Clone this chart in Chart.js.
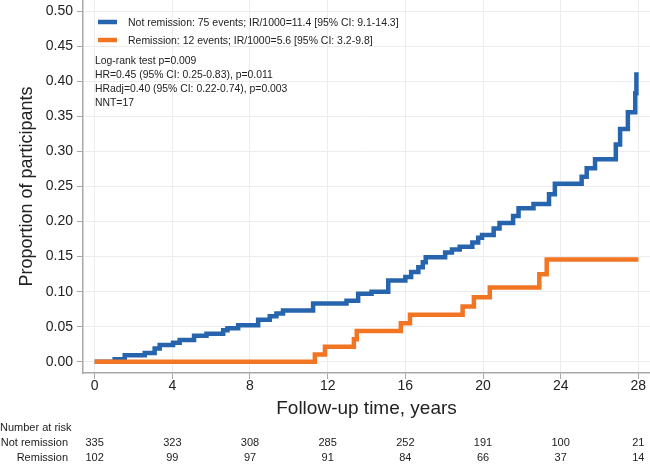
<!DOCTYPE html>
<html>
<head>
<meta charset="utf-8">
<script src="https://cdn.jsdelivr.net/npm/chart.js@4"></script>
<style>
  html, body { margin: 0; padding: 0; background: #fff; }
  #wrap { width: 650px; height: 466px; }
</style>
</head>
<body>
<div id="wrap"><canvas id="kmChart" width="650" height="466"></canvas></div>
<script>
// ---- data ----
const notRemTime = [0, 1.03, 1.55, 2.58, 3.09, 3.35, 4.04, 4.38, 5.12, 5.76, 6.62, 6.84, 7.39, 8.42, 9.02, 9.36, 9.70,
  11.25, 12.97, 13.57, 14.26, 15.12, 16.0, 16.3, 16.67, 16.9, 17.05, 18.05, 18.4, 18.8, 19.45, 19.75, 19.95,
  20.55, 20.85, 21.55, 21.83, 22.6, 23.4, 23.7, 25.08, 25.34, 25.77, 26.84, 27.06, 27.46, 27.84, 27.9];
const notRemProp = [0, 0.0037, 0.0094, 0.0127, 0.019, 0.024, 0.027, 0.031, 0.037, 0.040, 0.045, 0.048, 0.052, 0.060, 0.065, 0.069, 0.073,
  0.083, 0.087, 0.097, 0.100, 0.116, 0.121, 0.128, 0.135, 0.142, 0.149, 0.156, 0.160, 0.164, 0.170, 0.177, 0.181,
  0.190, 0.198, 0.208, 0.219, 0.225, 0.239, 0.254, 0.264, 0.276, 0.289, 0.310, 0.332, 0.356, 0.383, 0.413];

const remTime = [0, 11.34, 11.86, 13.35, 13.5, 15.77, 16.24, 18.95, 19.53, 20.35, 22.9, 23.28, 28];
const remProp = [0, 0.0104, 0.0214, 0.032, 0.044, 0.055, 0.067, 0.079, 0.092, 0.106, 0.125, 0.146, 0.146];

const xTicks = [0, 4, 8, 12, 16, 20, 24, 28];
const yTicks = [0, 0.05, 0.10, 0.15, 0.20, 0.25, 0.30, 0.35, 0.40, 0.45, 0.50];

const riskNotRem = [335, 323, 308, 285, 252, 191, 100, 21];
const riskRem = [102, 99, 97, 91, 84, 66, 37, 14];

const seriesLabels = [
  "Not remission: 75 events; IR/1000=11.4 [95% CI: 9.1-14.3]",
  "Remission: 12 events; IR/1000=5.6 [95% CI: 3.2-9.8]"
];
const statLines = [
  "Log-rank test p=0.009",
  "HR=0.45 (95% CI: 0.25-0.83), p=0.011",
  "HRadj=0.40 (95% CI: 0.22-0.74), p=0.003",
  "NNT=17"
];

const BLUE = "#2764ae";
const ORANGE = "#f27524";
const FONT = "'Liberation Sans', Arial, sans-serif";
const NARROW = "'Liberation Sans Narrow', 'Liberation Sans', Arial, sans-serif";

const toPoints = (xs, ys) => xs.map((x, i) => ({ x: x, y: ys[i] }));

// text drawn a little condensed, like the reference
function squeezedText(ctx, txt, x, y, sx) {
  ctx.save();
  ctx.translate(x, y);
  ctx.scale(sx, 1);
  ctx.fillText(txt, 0, 0);
  ctx.restore();
}

// legend, stats text and number-at-risk table
const extras = {
  id: "extras",
  afterDraw(chart) {
    const ctx = chart.ctx;
    const xs = chart.scales.x;
    ctx.save();

    // legend inside the plot
    const colors = [BLUE, ORANGE];
    ctx.font = "11.5px " + FONT;
    ctx.textBaseline = "middle";
    ctx.textAlign = "left";
    seriesLabels.forEach((lab, i) => {
      const y = 22 + i * 18;
      ctx.strokeStyle = colors[i];
      ctx.lineWidth = 4.5;
      ctx.beginPath();
      ctx.moveTo(98, y);
      ctx.lineTo(117, y);
      ctx.stroke();
      ctx.fillStyle = "#222";
      squeezedText(ctx, lab, 128, y + 0.5, 0.91);
    });

    ctx.font = "11.3px " + FONT;
    statLines.forEach((s, i) => {
      squeezedText(ctx, s, 95, 61 + i * 13.8, 0.92);
    });

    // number at risk
    ctx.font = "11px " + NARROW;
    ctx.fillStyle = "#222";
    ctx.textAlign = "left";
    ctx.fillText("Number at risk", 0, 428);
    ctx.textAlign = "right";
    ctx.fillText("Not remission", 68, 443);
    ctx.fillText("Remission", 68, 458);
    ctx.textAlign = "center";
    xTicks.forEach((t, i) => {
      const px = xs.getPixelForValue(t);
      ctx.fillText(String(riskNotRem[i]), px, 443);
      ctx.fillText(String(riskRem[i]), px, 458);
    });
    ctx.restore();
  }
};

new Chart(document.getElementById("kmChart"), {
  type: "line",
  data: {
    datasets: [
      {
        label: seriesLabels[1],
        data: toPoints(remTime, remProp),
        borderColor: ORANGE,
        borderWidth: 4.5,
        stepped: "before",
        pointRadius: 0,
        fill: false,
        order: 0,
      },
      {
        label: seriesLabels[0],
        data: toPoints(notRemTime, notRemProp),
        borderColor: BLUE,
        borderWidth: 4.5,
        stepped: "before",
        pointRadius: 0,
        fill: false,
        order: 1,
      },
    ],
  },
  options: {
    responsive: false,
    animation: false,
    parsing: false,
    layout: { padding: { left: 0, right: 0, top: 0, bottom: 46 } },
    plugins: {
      legend: { display: false },
      tooltip: { enabled: false },
    },
    scales: {
      x: {
        type: "linear",
        min: -0.6,
        max: 28.6,
        afterBuildTicks: (s) => { s.ticks = xTicks.map((v) => ({ value: v })); },
        afterFit: (s) => { s.height = 47; },
        grid: { color: "#ececec", lineWidth: 1, tickLength: 6, tickColor: "#a8a8a8" },
        border: { color: "#a8a8a8", width: 1.5 },
        ticks: {
          color: "#222",
          padding: -1,
          maxRotation: 0,
          font: { family: FONT, size: 14 },
          callback: (v) => String(v),
        },
        title: {
          display: true,
          text: "Follow-up time, years",
          color: "#222",
          font: { family: FONT, size: 19 },
          padding: { top: 0, bottom: 0 },
        },
      },
      y: {
        type: "linear",
        min: -0.016,
        max: 0.516,
        afterBuildTicks: (s) => { s.ticks = yTicks.map((v) => ({ value: v })); },
        afterFit: (s) => { s.width = 83; s.paddingTop = 0; s.paddingBottom = 0; },
        grid: { color: "#ececec", lineWidth: 1, tickLength: 6, tickColor: "#a8a8a8" },
        border: { color: "#a8a8a8", width: 1.5 },
        ticks: {
          color: "#222",
          padding: 4,
          font: { family: FONT, size: 14 },
          callback: (v) => v.toFixed(2),
        },
        title: {
          display: true,
          text: "Proportion of participants",
          color: "#222",
          font: { family: FONT, size: 18 },
          padding: { top: 16, bottom: 0 },
        },
      },
    },
  },
  plugins: [extras],
});
</script>
</body>
</html>
